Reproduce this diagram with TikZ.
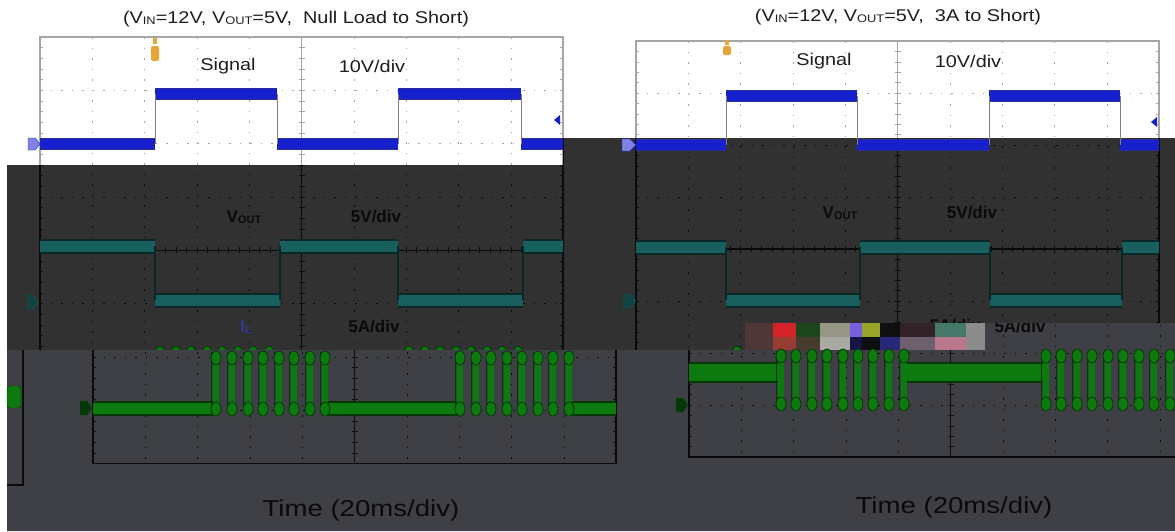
\documentclass[tikz,border=0pt]{standalone}
\usepackage{fontspec}
\setmainfont{Liberation Sans}

\definecolor{darkbg}{RGB}{49,49,49}
\definecolor{lightbg}{RGB}{63,64,69}
\definecolor{gridw}{RGB}{165,165,165}
\definecolor{gridk}{RGB}{10,10,10}
\definecolor{sblue}{RGB}{22,32,205}
\definecolor{sbluedk}{RGB}{45,45,150}
\definecolor{vteal}{RGB}{24,96,94}
\definecolor{vtealdk}{RGB}{10,40,40}
\definecolor{igreen}{RGB}{12,122,14}
\definecolor{igreendk}{RGB}{5,55,8}
\definecolor{trig}{RGB}{232,165,55}
\definecolor{inkw}{RGB}{30,30,30}
\definecolor{inkd}{RGB}{10,10,10}
\definecolor{garbA}{RGB}{80,55,55}
\definecolor{garbB}{RGB}{210,35,40}
\definecolor{garbC}{RGB}{150,60,50}
\definecolor{garbD}{RGB}{30,70,30}
\definecolor{garbE}{RGB}{70,60,45}
\definecolor{garbF}{RGB}{150,150,135}
\definecolor{garbG}{RGB}{170,170,165}
\definecolor{garbH}{RGB}{120,95,220}
\definecolor{garbI}{RGB}{25,20,70}
\definecolor{garbJ}{RGB}{150,165,40}
\definecolor{garbK}{RGB}{15,15,15}
\definecolor{garbL}{RGB}{40,40,120}
\definecolor{garbM}{RGB}{50,35,40}
\definecolor{garbN}{RGB}{110,95,110}
\definecolor{garbO}{RGB}{70,120,105}
\definecolor{garbP}{RGB}{185,120,140}
\definecolor{garbQ}{RGB}{140,140,140}

\newcommand{\wide}[1]{\scalebox{1.17}[1]{#1}}
\newcommand{\lowtxt}[1]{\raisebox{-0.15ex}{\fontsize{11}{11}\selectfont #1}}
% left, top, x division, y division, colour
\newcommand{\scopegrid}[5]{%
  \foreach \i in {1,...,9}
    \draw[#5, dash pattern=on 1.5pt off 9pt] ({#1+\i*#3},#2) -- ++(0,{8*#4});
  \foreach \j in {1,...,7}
    \draw[#5, dash pattern=on 1.5pt off 9pt] (#1,{#2+\j*#4}) -- ++({10*#3},0);
  \draw[#5, line width=1.4pt] (#1,#2) rectangle ++({10*#3},{8*#4});
  \draw[#5, line width=1.2pt] ({#1+5*#3},#2) -- ++(0,{8*#4});
  \draw[#5, line width=1.2pt] (#1,{#2+4*#4}) -- ++({10*#3},0);
  \foreach \k in {1,...,49}
    \draw[#5] ({#1+\k*#3/5},{#2+4*#4-3}) -- ++(0,6);
  \foreach \k in {1,...,39}
    \draw[#5] ({#1+5*#3-3},{#2+\k*#4/5}) -- ++(6,0)
      (#1,{#2+\k*#4/5}) -- ++(3,0) ({#1+10*#3},{#2+\k*#4/5}) -- ++(-3,0);
}

\begin{document}
\begin{tikzpicture}[x=1pt,y=-1pt,
    sband/.style={draw=sblue, line width=10pt, preaction={draw=sbluedk, line width=12pt}},
    vband/.style={draw=vteal, line width=11pt, preaction={draw=vtealdk, line width=15pt}},
    iband/.style={draw=igreen, line width=11pt, preaction={draw=igreendk, line width=15pt}},
    iwide/.style={draw=igreen, line width=17pt, preaction={draw=igreendk, line width=21pt}},
    sedge/.style={draw=gray, line width=0.8pt},
    vedge/.style={draw=vtealdk, line width=1.4pt},
    pbar/.style={draw=igreen, line width=6.5pt},
    pblob/.style={fill=igreen, draw=igreendk, line width=0.8pt},
    pline/.style={draw=igreendk, line width=1pt},
    lbl/.style={font=\fontsize{17}{20}\selectfont, inner sep=0pt},
    dlbl/.style={font=\fontsize{17}{20}\selectfont\bfseries, inner sep=0pt, text=inkd},
    big/.style={font=\fontsize{23}{26}\selectfont, inner sep=0pt}]
  \useasboundingbox (0,0) rectangle (1175,531);
  \fill[white] (0,0) rectangle (1175,531);

  % titles
  \node[lbl, text=inkw] (titleA) at (296,19) {\wide{(V\lowtxt{IN}=12V, V\lowtxt{OUT}=5V,\ \ Null Load to Short)}};
  \node[lbl, text=inkw] (titleB) at (898,17) {\wide{(V\lowtxt{IN}=12V, V\lowtxt{OUT}=5V,\ \ 3A to Short)}};

  % grids on the white part
  \scopegrid{40}{37}{52.3}{53.3}{gridw}
  \scopegrid{636}{41}{52.3}{52}{gridw}

  % dark band
  \fill[darkbg] (7,165) -- (563,165) -- (563,138) -- (1175,138) -- (1175,323)
    -- (966,323) -- (966,350) -- (7,350) -- cycle;
  \begin{scope}
    \clip (7,165) -- (563,165) -- (563,138) -- (1175,138) -- (1175,323)
      -- (966,323) -- (966,350) -- (7,350) -- cycle;
    \scopegrid{40}{37}{52.3}{53.3}{gridk}
    \scopegrid{636}{41}{52.3}{52}{gridk}
  \end{scope}

  % trigger marks and level arrows
  \fill[trig] (153,38) rectangle (157,44);
  \fill[trig, rounded corners=2pt] (151,46) rectangle (159,61);
  \fill[trig] (725,40) rectangle (729,45);
  \fill[trig, rounded corners=2pt] (723,46) rectangle (731,55);
  \fill[sblue] (554,120) -- (560,115) -- (560,125) -- cycle;
  \fill[sblue] (1151,122) -- (1157,117) -- (1157,127) -- cycle;

  % signal
  \draw[sband] (40,144) -- (155,144) (155,94) -- (277,94) (277,144) -- (398,144)
    (398,94) -- (521,94) (521,144) -- (563,144);
  \draw[sedge] (155,144) -- (155,94) (277,94) -- (277,144) (398,144) -- (398,94) (521,94) -- (521,144);
  \draw[sband] (636,145) -- (726,145) (726,96) -- (857,96) (857,145) -- (989,145)
    (989,96) -- (1120,96) (1120,145) -- (1159,145);
  \draw[sedge] (726,145) -- (726,96) (857,96) -- (857,145) (989,145) -- (989,96) (1120,96) -- (1120,145);
  \filldraw[fill=sblue!55!white, draw=sblue] (28,138) -- (35,138) -- (40,144) -- (35,150) -- (28,150) -- cycle;
  \filldraw[fill=sblue!55!white, draw=sblue] (622,139) -- (630,139) -- (636,145) -- (630,151) -- (622,151) -- cycle;

  % output voltage
  \draw[vband] (40,246) -- (155,246) (155,300) -- (280,300) (280,246) -- (398,246)
    (398,300) -- (523,300) (523,246) -- (563,246);
  \draw[vedge] (155,246) -- (155,300) (280,300) -- (280,246) (398,246) -- (398,300) (523,300) -- (523,246);
  \draw[vband] (636,247) -- (726,247) (726,300) -- (860,300) (860,247) -- (990,247)
    (990,300) -- (1122,300) (1122,247) -- (1159,247);
  \draw[vedge] (726,247) -- (726,300) (860,300) -- (860,247) (990,247) -- (990,300) (1122,300) -- (1122,247);
  \filldraw[fill=vteal!70!black, draw=vteal] (27,295) -- (33,295) -- (38,302) -- (33,309) -- (27,309) -- cycle;
  \filldraw[fill=vteal!70!black, draw=vteal] (623,294) -- (630,294) -- (636,301) -- (630,308) -- (623,308) -- cycle;

  % labels on the white and dark parts
  \node[lbl, text=inkw] (sigA) at (228,66) {\wide{Signal}};
  \node[lbl, text=inkw] (sdivA) at (372,66) {\wide{10V/div}};
  \node[lbl, text=inkw] (sigB) at (824,61) {\wide{Signal}};
  \node[lbl, text=inkw] (sdivB) at (968,61) {\wide{10V/div}};
  \node[dlbl] (voutA) at (244,217) {V\lowtxt{OUT}};
  \node[dlbl] (vdivA) at (376,217) {5V/div};
  \node[dlbl] (voutB) at (840,213) {V\lowtxt{OUT}};
  \node[dlbl] (vdivB) at (972,213) {5V/div};
  \node[dlbl, text={rgb,255:red,55;green,55;blue,150}] (ilA) at (246,327) {I\lowtxt{L}};
  \node[dlbl] (idivA) at (374,327) {5A/div};
  \node[dlbl] (idivB) at (955,326) {5A/div};

  % tops of the current pulses
  \foreach \x in {160,176,191,207,222,238,253,269,409,425,440,456,471,487,502,518,737}
    \filldraw[pblob] (\x,352) ellipse[x radius=4.5, y radius=6];

  % lighter lower band
  \fill[lightbg] (7,350) -- (966,350) -- (966,323) -- (1175,323) -- (1175,531) -- (7,531) -- cycle;
  \begin{scope}
    \clip (7,350) -- (966,350) -- (966,323) -- (1175,323) -- (1175,531) -- (7,531) -- cycle;
    \scopegrid{93}{37}{52.3}{53.3}{gridk}
    \scopegrid{689}{41}{52.3}{52}{gridk}
    \node[dlbl] (idivC) at (1020,327) {5A/div};
  \end{scope}
  \draw[gridk, line width=1.4pt] (23,350) -- (23,485) -- (7,485);
  \filldraw[fill=igreen, draw=igreendk, rounded corners=3pt] (7,386) rectangle (21,408);

  % broken strip
  \fill[garbA] (745,323) rectangle (773,350);
  \foreach \xa/\xb/\ca/\cb in {773/796/garbB/garbC, 796/820/garbD/garbE, 820/850/garbF/garbG,
      850/862/garbH/garbI, 862/880/garbJ/garbK, 880/900/garbK/garbL, 900/935/garbM/garbN,
      935/966/garbO/garbP, 966/985/garbQ/garbQ}
    {\fill[\ca] (\xa,323) rectangle (\xb,337);
     \fill[\cb] (\xa,337) rectangle (\xb,350);}

  % inductor current
  \draw[iband] (93,408) -- (216,408) (325,408) -- (460,408) (569,408) -- (616,408);
  \foreach \x in {216,232,248,263,279,294,310,325,460,476,491,507,522,538,553,569}
  {
    \draw[pline] (\x-5,408) -- (\x-5,352);
    \draw[pbar] (\x,408) -- (\x,357);
    \filldraw[pblob] (\x,358) ellipse[x radius=5, y radius=7] (\x,409) ellipse[x radius=5, y radius=7];
  }
  \draw[iwide] (689,372) -- (781,372) (904,372) -- (1046,372);
  \foreach \x in {781,796,812,827,843,858,873,889,904,1046,1061,1077,1092,1108,1123,1139,1154,1170}
  {
    \draw[pline] (\x-5,405) -- (\x-5,352);
    \draw[pbar] (\x,405) -- (\x,354);
    \filldraw[pblob] (\x,356) ellipse[x radius=5, y radius=7] (\x,404) ellipse[x radius=5, y radius=7];
  }
  \filldraw[fill=igreendk, draw=igreen!60!black] (80,401) -- (87,401) -- (92,408) -- (87,415) -- (80,415) -- cycle;
  \filldraw[fill=igreendk, draw=igreen!60!black] (676,398) -- (683,398) -- (688,405) -- (683,412) -- (676,412) -- cycle;

  % time axis
  \node[big, text=inkd] (timeA) at (361,511) {\scalebox{1.2}[1]{Time (20ms/div)}};
  \node[big, text=inkd] (timeB) at (954,508) {\scalebox{1.2}[1]{Time (20ms/div)}};
\end{tikzpicture}
\end{document}
